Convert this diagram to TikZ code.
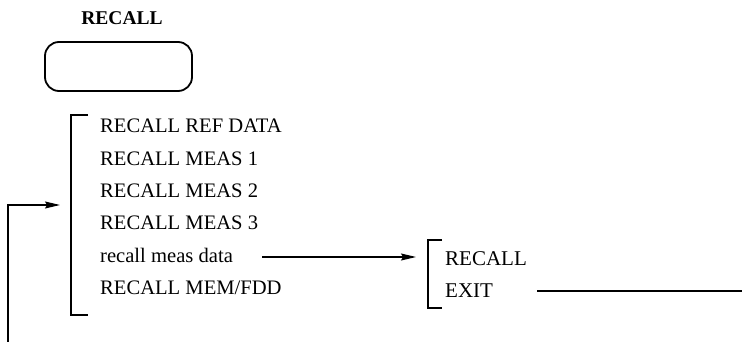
\documentclass[tikz,border=0pt]{standalone}
\usepackage{fontspec}
\setmainfont{Liberation Serif}
\usetikzlibrary{arrows.meta}
\begin{document}
\begin{tikzpicture}[x=1pt,y=-1pt,
  item/.style={anchor=base west, inner sep=0pt, font=\fontsize{20.6}{24}\selectfont},
  subitem/.style={anchor=base west, inner sep=0pt, font=\fontsize{21}{25}\selectfont},
  title/.style={anchor=base, inner sep=0pt, font=\fontsize{19.5}{23}\selectfont\bfseries},
  keybox/.style={draw, line width=1.8pt, rounded corners=14pt, minimum width=147pt, minimum height=49pt, inner sep=0pt},
  bracket/.style={line width=1.2pt},
  conn/.style={line width=1.2pt, -{Stealth[length=15pt,width=7pt,inset=2pt]}},
  thick line/.style={line width=1.8pt}]
\useasboundingbox (0,0) rectangle (742,342);
% title and key
\node[title] (ttl) at (122,25) {RECALL};
\node[keybox] (key) at (118.5,66.5) {};
% first menu
\node[item] (i1) at (100,133) {RECALL REF DATA};
\node[item] (i2) at (100,165.5) {RECALL MEAS 1};
\node[item] (i3) at (100,197.5) {RECALL MEAS 2};
\node[item] (i4) at (100,229.5) {RECALL MEAS 3};
\node[item] (i5) at (100,262) {recall meas data};
\node[item] (i6) at (100,294.5) {RECALL MEM/FDD};
\draw[bracket] (88,115) -- (71,115) -- (71,315) -- (88,315);
% second menu
\node[subitem] (s1) at (445,265) {RECALL};
\node[subitem] (s2) at (445,297) {EXIT};
\draw[bracket] (442,240) -- (428,240) -- (428,308) -- (442,308);
% connectors
\coordinate (loopstart) at (8,342);
\coordinate (loopcorner) at (8,205);
\coordinate (menuin) at (60,205);
\draw[conn] (loopstart) -- (loopcorner) -- (menuin);
\coordinate (dstart) at (262,257);
\coordinate (dend) at (416,257);
\draw[conn] (dstart) -- (dend);
\coordinate (exitstart) at (537,291);
\coordinate (exitend) at (742,291);
\draw[thick line] (exitstart) -- (exitend);
\end{tikzpicture}
\end{document}
